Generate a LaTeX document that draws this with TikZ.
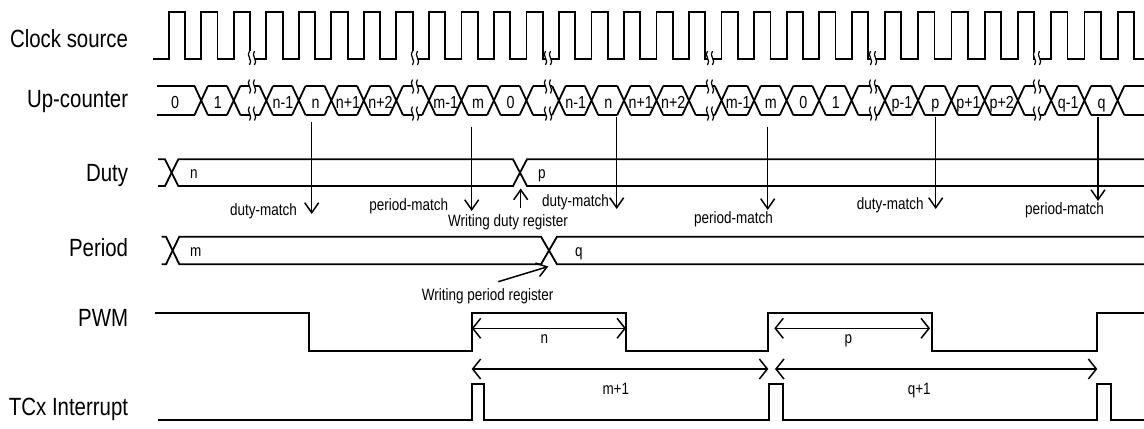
\documentclass[tikz,border=0pt]{standalone}
\usepackage{fontspec}
\setmainfont{Liberation Sans}[FakeStretch=0.82]
\usetikzlibrary{arrows.meta}
\begin{document}
\begin{tikzpicture}[x=1bp,y=-1bp,
  sig/.style={line width=1.8bp, line join=miter},
  big/.style={font=\fontsize{25}{30}\selectfont, anchor=base east, inner sep=0pt},
  sm/.style={font=\fontsize{16.5}{20}\selectfont, inner sep=0pt},
  cnt/.style={font=\fontsize{17.5}{20}\selectfont, anchor=base, inner sep=0pt},
  varr/.style={line width=1.5bp, -{Straight Barb[length=10bp,width=14bp]}},
  dimarr/.style={line width=1.5bp, {Straight Barb[length=8bp,width=20bp]}-{Straight Barb[length=8bp,width=20bp]}},
  brk/.pic={
    \fill[white] (-2.5,-7) .. controls (-6.5,-2.5) and (1.5,2.5) .. (-2.5,7) -- (2.5,7) .. controls (6.5,2.5) and (-1.5,-2.5) .. (2.5,-7) -- cycle;
    \draw[line width=1.2bp] (-2.5,-7) .. controls (-6.5,-2.5) and (1.5,2.5) .. (-2.5,7);
    \draw[line width=1.2bp] (2.5,-7) .. controls (-1.5,-2.5) and (6.5,2.5) .. (2.5,7);
  }]
\fill[white] (0,0) rectangle (1144,428);
\useasboundingbox (0,0) rectangle (1144,428);
\def\rises{168.7,201.2,233.7,266.3,298.8,331.3,363.8,396.3,428.9,461.4,493.9,526.4,558.9,591.5,624.0,656.5,689.0,721.5,754.1,786.6,819.1,851.6,884.9,918.1,951.4,984.6,1017.9,1051.1,1084.4,1117.6}
\def\hw{6.7}

% row labels
\node[big] (lclk) at (128.3,47.3) {Clock source};
\node[big] (lcnt) at (128.3,107.3) {Up-counter};
\node[big] (lduty) at (128.3,181.7) {Duty};
\node[big] (lper) at (128.3,256) {Period};
\node[big] (lpwm) at (128.3,326.7) {PWM};
\node[big] (lint) at (128.3,415) {TCx Interrupt};

% clock
\draw[sig] (152.7,58.7) \foreach \r in \rises {-- (\r,58.7) -- (\r,12.3) -- (\r+16.3,12.3) -- (\r+16.3,58.7)} -- (1144,58.7);

% up-counter
\draw[sig] (156.7,86) -- (201.2-\hw,86) (156.7,115) -- (201.2-\hw,115);
\node[cnt] (c0) at (175,108.3) {0};
\foreach \a/\b/\t [count=\i] in {201.2/233.7/1, 233.7/266.3/{}, 266.3/298.8/n-1, 298.8/331.3/n, 331.3/363.8/n+1, 363.8/396.3/n+2, 396.3/428.9/{}, 428.9/461.4/m-1, 461.4/493.9/m, 493.9/526.4/0, 526.4/558.9/{}, 558.9/591.5/n-1, 591.5/624.0/n, 624.0/656.5/n+1, 656.5/689.0/n+2, 689.0/721.5/{}, 721.5/754.1/m-1, 754.1/786.6/m, 786.6/819.1/0, 819.1/851.6/1, 851.6/884.9/{}, 884.9/918.1/p-1, 918.1/951.4/p, 951.4/984.6/p+1, 984.6/1017.9/p+2, 1017.9/1051.1/{}, 1051.1/1084.4/q-1, 1084.4/1117.6/q}{
  \draw[sig] (\a+\hw,86) -- (\b-\hw,86) (\a+\hw,115) -- (\b-\hw,115)
             (\a-\hw,86) -- (\a+\hw,115) (\a-\hw,115) -- (\a+\hw,86);
  \node[cnt] (c\i) at ({(\a+\b)/2+0.5},108.3) {\t};
}
\draw[sig] (1117.6-\hw,86) -- (1117.6+\hw,115) (1117.6-\hw,115) -- (1117.6+\hw,86)
           (1117.6+\hw,86) -- (1144,86) (1117.6+\hw,115) -- (1144,115);

% breaks
\foreach \x in {252,415,548,710,873,1037}{
  \pic at (\x,58) {brk};
  \pic at (\x,86.5) {brk};
  \pic at (\x,113.5) {brk};
}

% duty
\draw[sig] (158,159.3) -- (165,159.3) -- (178.3,186) -- (513,186) -- (527,159.3) -- (1144,159.3);
\draw[sig] (158,186) -- (165,186) -- (178.3,159.3) -- (513,159.3) -- (527,186) -- (1144,186);
\node[sm, anchor=base west] (dn) at (190,178.3) {n};
\node[sm, anchor=base west] (dp) at (538,178.3) {p};

% period
\draw[sig] (161.7,236.7) -- (166,236.7) -- (179.3,264.3) -- (541,264.3) -- (557,236.7) -- (1144,236.7);
\draw[sig] (161.7,264.3) -- (166,264.3) -- (179.3,236.7) -- (541,236.7) -- (557,264.3) -- (1144,264.3);
\node[sm, anchor=base west] (pm) at (190,256.7) {m};
\node[sm, anchor=base west] (pq) at (575,256.7) {q};

% match arrows
\coordinate (dm1s) at (311.7,121.7); \coordinate (dm1e) at (311.7,214);
\coordinate (pm1s) at (471.7,126.7); \coordinate (pm1e) at (471.7,211);
\coordinate (dm2s) at (616.7,116.7); \coordinate (dm2e) at (616.7,209);
\coordinate (pm2s) at (767.7,126.7); \coordinate (pm2e) at (767.7,210);
\coordinate (dm3s) at (935.7,116.7); \coordinate (dm3e) at (935.7,209);
\coordinate (pm3s) at (1098,116.7); \coordinate (pm3e) at (1098,201);
\coordinate (wds) at (520.7,208); \coordinate (wde) at (520.7,188.5);
\coordinate (wps) at (498.3,281.7); \coordinate (wpe) at (548.3,266.5);
\draw[varr] (dm1s) -- (dm1e);
\draw[varr] (pm1s) -- (pm1e);
\draw[varr] (dm2s) -- (dm2e);
\draw[varr] (pm2s) -- (pm2e);
\draw[varr] (dm3s) -- (dm3e);
\draw[varr] (pm3s) -- (pm3e);
\draw[varr] (wds) -- (wde);
\draw[varr] (wps) -- (wpe);

\node[sm, anchor=base east] (tdm1) at (297,215) {duty-match};
\node[sm, anchor=base east] (tpm1) at (448.3,210) {period-match};
\node[sm, anchor=base west] (tdm2) at (542,206.7) {duty-match};
\node[sm, anchor=base west] (tpm2) at (694,223.3) {period-match};
\node[sm, anchor=base west] (tdm3) at (856.7,209) {duty-match};
\node[sm, anchor=base west] (tpm3) at (1025,214.3) {period-match};
\node[sm, anchor=base west] (twd) at (448,226) {Writing duty register};
\node[sm, anchor=base west] (twp) at (421.7,300) {Writing period register};

% PWM
\draw[sig] (155,312.7) -- (309,312.7) -- (309,350.7) -- (471.7,350.7) -- (471.7,312.7) -- (626,312.7) -- (626,350.7) -- (767.7,350.7) -- (767.7,312.7) -- (931.7,312.7) -- (931.7,350.7) -- (1096.7,350.7) -- (1096.7,312.7) -- (1144,312.7);

\coordinate (pn1) at (471.7,328.3); \coordinate (pn2) at (626,328.3);
\coordinate (pp1) at (774.3,328.3); \coordinate (pp2) at (930,328.3);
\coordinate (im1) at (471.7,369); \coordinate (im2) at (768.3,369);
\coordinate (iq1) at (775,369); \coordinate (iq2) at (1097.3,369);
\draw[dimarr] (pn1) -- (pn2);
\draw[dimarr] (pp1) -- (pp2);
\draw[dimarr] (im1) -- (im2);
\draw[dimarr] (iq1) -- (iq2);
\node[sm, anchor=base] (tn) at (544.3,343.3) {n};
\node[sm, anchor=base] (tp) at (848.3,343.3) {p};
\node[sm, anchor=base] (tm1) at (615.8,394) {m+1};
\node[sm, anchor=base] (tq1) at (919.2,394) {q+1};

% interrupt
\draw[sig] (158,420) -- (471.7,420) -- (471.7,384) -- (484.3,384) -- (484.3,420) -- (769,420) -- (769,384) -- (783.3,384) -- (783.3,420) -- (1096.7,420) -- (1096.7,384) -- (1111,384) -- (1111,420) -- (1144,420);
\end{tikzpicture}
\end{document}
